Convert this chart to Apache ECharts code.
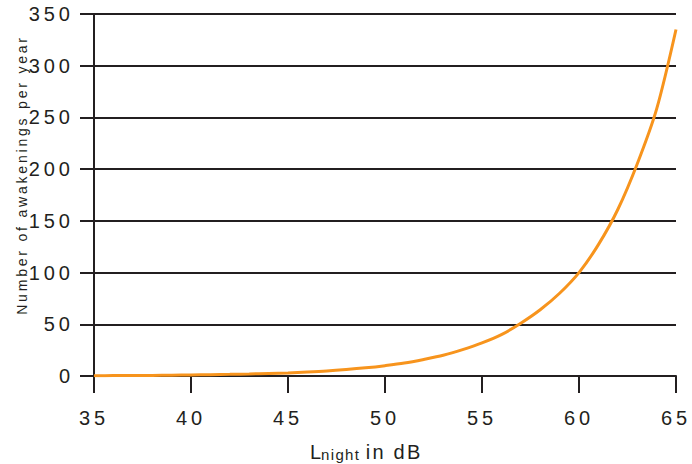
<!DOCTYPE html>
<html>
<head>
<meta charset="utf-8">
<script src="https://cdn.jsdelivr.net/npm/echarts@6.0.0/dist/echarts.min.js"></script>
<style>
  html, body { margin: 0; padding: 0; background: #ffffff; }
  #chart { width: 692px; height: 464px; }
</style>
</head>
<body>
<div id="chart"></div>
<script>
// L_night in dB
const levels = [35, 36, 37, 38, 39, 40, 41, 42, 43, 44, 45, 46, 47, 48, 49, 50,
                51, 52, 53, 54, 55, 56, 57, 58, 59, 60, 61, 62, 63, 64, 65];
// Number of awakenings per year
const awakenings = [0.3, 0.4, 0.5, 0.6, 0.8, 1.0, 1.3, 1.6, 2.0, 2.5, 3.0, 3.8, 4.8, 6.2, 7.9, 10,
                    12.5, 16, 20, 25.5, 32, 40, 51, 64, 80, 100, 127, 161, 205, 258, 335];
const xTicks = [35, 40, 45, 50, 55, 60, 65];
const yTicks = [0, 50, 100, 150, 200, 250, 300, 350];
const yTitle = 'Number of awakenings per year';

const INK = '#231f20';
const ORANGE = '#f7941d';
const FONT = '"Liberation Sans", Arial, Helvetica, sans-serif';

const chart = echarts.init(document.getElementById('chart'), null, { renderer: 'svg' });

const option = {
  animation: false,
  backgroundColor: '#ffffff',
  grid: { left: 94, right: 16, top: 14, bottom: 88, containLabel: false },
  xAxis: {
    type: 'value',
    min: xTicks[0],
    max: xTicks[xTicks.length - 1],
    interval: 5,
    axisLine: { show: true, onZero: false, lineStyle: { color: INK, width: 2 } },
    axisTick: { show: true, length: 17, lineStyle: { color: INK, width: 2 } },
    splitLine: { show: false },
    axisLabel: { margin: 32, color: INK, fontSize: 20, fontFamily: FONT }
  },
  yAxis: {
    type: 'value',
    min: yTicks[0],
    max: yTicks[yTicks.length - 1],
    interval: 50,
    axisLine: { show: true, onZero: false, lineStyle: { color: INK, width: 2 } },
    axisTick: { show: true, length: 14, lineStyle: { color: INK, width: 2 } },
    splitLine: { show: true, lineStyle: { color: INK, width: 2 } },
    axisLabel: { margin: 20, color: INK, fontSize: 20, fontFamily: FONT }
  },
  series: [{
    type: 'line',
    data: levels.map((x, i) => [x, awakenings[i]]),
    smooth: 0.3,
    showSymbol: false,
    symbol: 'none',
    lineStyle: { color: ORANGE, width: 3 },
    z: 5
  }],
  graphic: [
    {
      type: 'text',
      x: 22, y: 175,
      rotation: Math.PI / 2,
      style: {
        text: yTitle,
        fill: INK,
        font: '14px ' + FONT,
        align: 'center',
        verticalAlign: 'middle'
      }
    },
    {
      type: 'text',
      x: 310, y: 462,
      style: {
        text: '{L|L}{s|night}{t| in dB}',
        fill: INK,
        align: 'left',
        verticalAlign: 'bottom',
        rich: {
          L: { fontSize: 20, fontFamily: FONT, fill: INK, verticalAlign: 'bottom', lineHeight: 22 },
          s: { fontSize: 15, fontFamily: FONT, fill: INK, verticalAlign: 'bottom', lineHeight: 22, width: 37 },
          t: { fontSize: 20, fontFamily: FONT, fill: INK, verticalAlign: 'bottom', lineHeight: 22 }
        }
      }
    }
  ]
};

chart.setOption(option);

function applySpacing() {
  const texts = document.querySelectorAll('#chart svg text');
  texts.forEach(t => {
    const s = (t.textContent || '').trim();
    let ls = null;
    if (/^\d+$/.test(s)) ls = '4px';
    else if (s.indexOf('awakenings') >= 0) ls = '2.8px';
    else if (s === 'night') ls = '1.3px';
    else if (s === 'in dB') ls = '2.2px';
    if (ls) { t.style.letterSpacing = ls; t.style.whiteSpace = 'pre'; }
  });
}
applySpacing();
chart.on('finished', applySpacing);
</script>
</body>
</html>
